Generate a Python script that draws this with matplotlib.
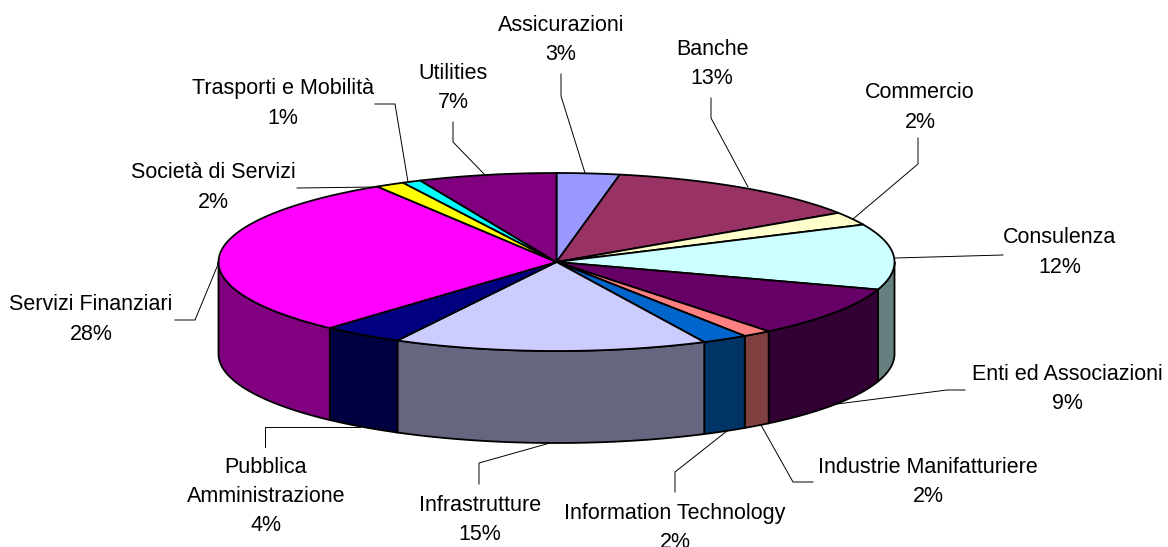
import numpy as np
import matplotlib
matplotlib.use("Agg")
import matplotlib.pyplot as plt
from matplotlib.patches import Polygon

plt.rcParams["font.family"] = ["Liberation Sans", "DejaVu Sans"]

# Data
labels = ["Assicurazioni", "Banche", "Commercio", "Consulenza", "Enti ed Associazioni",
          "Industrie Manifatturiere", "Information Technology", "Infrastrutture",
          "Pubblica\nAmministrazione", "Servizi Finanziari", "Società di Servizi",
          "Trasporti e Mobilità", "Utilities"]
# printed percentages
pct_labels = ["3%", "13%", "2%", "12%", "9%", "2%", "2%", "15%", "4%", "28%", "2%", "1%", "7%"]
# slice sizes
shares = [3.0, 12.7, 2.4, 11.9, 9.2, 1.4, 2.2, 15.0, 3.9, 29.4, 1.4, 0.9, 6.6]
top_colors = ["#9999FF", "#993366", "#FFFFCC", "#CCFFFF", "#660066", "#FF8080", "#0066CC",
              "#CCCCFF", "#000080", "#FF00FF", "#FFFF00", "#00FFFF", "#800080"]
side_colors = ["#4D4D80", "#4D1A33", "#808066", "#668080", "#330033", "#804040", "#003366",
               "#666680", "#000040", "#800080", "#808000", "#008080", "#400040"]

# Pie geometry in pixels
cx, cy = 556.5, 262
rx, ry = 338, 89
depth = 92

# label centre and leader line
label_pos = [(561, 40), (712, 64), (920, 107.5), (1060, 252.5), (1067, 389), (928, 482), (675, 528),
             (480, 520), (266, 496.5), (91, 319.5), (213, 187.5), (283, 103.5), (453, 88)]
leaders = [[(561, 74), (561, 96), (585, 173)],
           [(711, 98), (711, 118), (748, 187)],
           [(918, 138), (918, 164), (853, 219)],
           [(1003, 255), (895, 258)],
           [(965, 390), (947, 390), (837, 404)],
           [(813, 482), (793, 482), (761, 425)],
           [(675, 492), (675, 472), (727, 431)],
           [(479, 484), (479, 463), (550, 443)],
           [(265, 447), (265, 427), (360, 427)],
           [(175, 320), (195, 320), (219, 262)],
           [(297, 188), (377, 187)],
           [(375, 104), (395, 104), (408, 182)],
           [(453, 122), (453, 142), (486, 176)]]

fig = plt.figure(figsize=(11.68, 5.47), dpi=100, facecolor="white")
ax = fig.add_axes([0, 0, 1, 1])
ax.set_xlim(0, 1168)
ax.set_ylim(547, 0)
ax.axis("off")

fracs = np.array(shares) / sum(shares)
edges = np.concatenate([[0], np.cumsum(fracs)]) * 2 * np.pi


def rim(a0, a1):
    t = np.linspace(a0, a1, 80)
    return cx + rx * np.sin(t), cy - ry * np.cos(t)


# side walls, only the part of the rim facing us
for i in range(len(shares)):
    a0 = max(edges[i], np.pi / 2)
    a1 = min(edges[i + 1], 3 * np.pi / 2)
    if a1 <= a0:
        continue
    x, y = rim(a0, a1)
    pts = np.column_stack([np.r_[x, x[::-1]], np.r_[y, y[::-1] + depth]])
    ax.add_patch(Polygon(pts, closed=True, fc=side_colors[i], ec="black", lw=1.3, zorder=2))

# top of the pie
for i in range(len(shares)):
    x, y = rim(edges[i], edges[i + 1])
    pts = np.column_stack([np.r_[cx, x], np.r_[cy, y]])
    ax.add_patch(Polygon(pts, closed=True, fc=top_colors[i], ec="black", lw=1.3, zorder=3))

# labels
for i in range(len(shares)):
    ax.text(label_pos[i][0], label_pos[i][1], labels[i] + "\n" + pct_labels[i],
            ha="center", va="center", fontsize=15.5, linespacing=1.53, color="black", zorder=5)
    xs, ys = zip(*leaders[i])
    ax.plot(xs, ys, color="black", lw=0.7, zorder=4)

fig.savefig("out.png", dpi=100)
